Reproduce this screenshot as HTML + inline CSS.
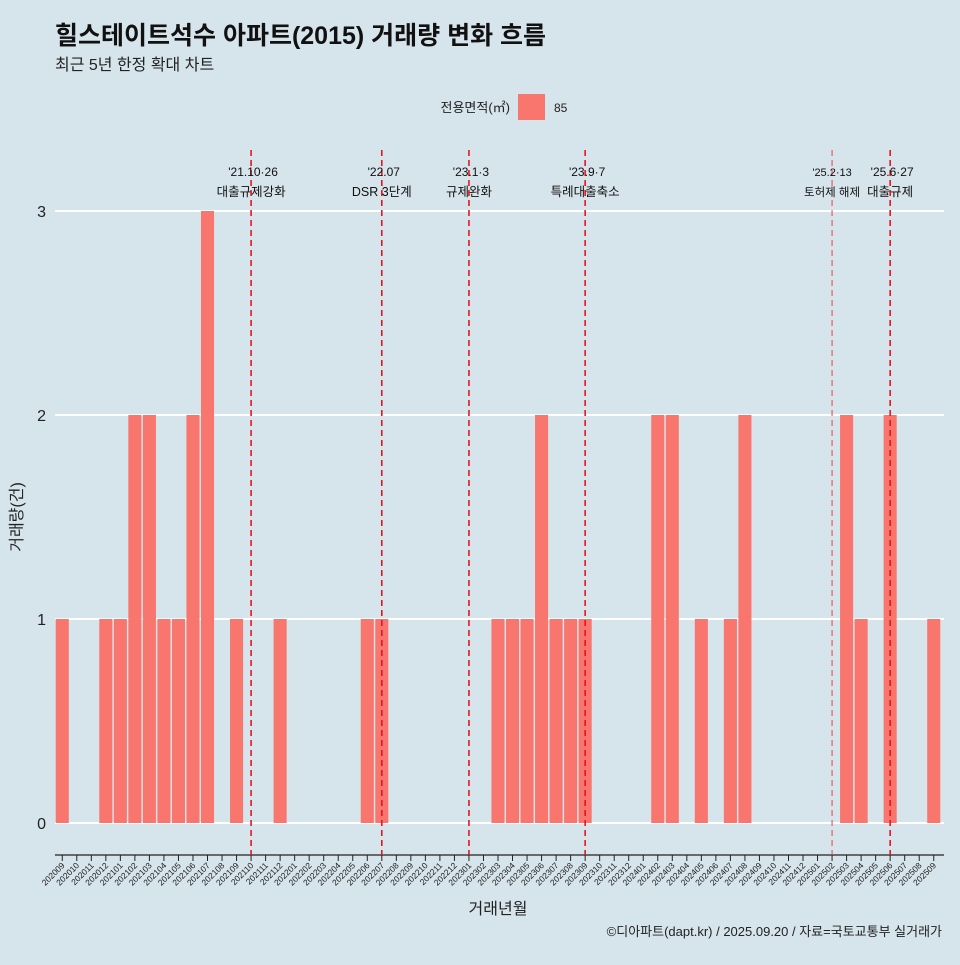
<!DOCTYPE html>
<html><head><meta charset="utf-8"><style>
body{margin:0;background:#d6e4eb;font-family:"Liberation Sans","Noto Sans CJK KR",sans-serif;}
svg text{font-family:"Liberation Sans","Noto Sans CJK KR",sans-serif;}
</style></head><body>
<svg id="c" width="960" height="960" xmlns="http://www.w3.org/2000/svg">
<rect width="960" height="960" fill="#d6e4eb"/>
<text x="55" y="44" font-size="25" font-weight="bold" fill="#111">힐스테이트석수 아파트(2015) 거래량 변화 흐름</text>
<text x="55" y="70" font-size="16" fill="#222">최근 5년 한정 확대 차트</text>
<text x="510" y="112" font-size="13" text-anchor="end" fill="#222">전용면적(㎡)</text>
<rect x="518" y="94" width="27" height="26" fill="#f8766d"/>
<text x="554" y="112" font-size="12" fill="#222">85</text>
<text x="22" y="517" font-size="16" fill="#222" transform="rotate(-90 22 517)" text-anchor="middle">거래량(건)</text>
<text x="498" y="914" font-size="16" fill="#222" text-anchor="middle">거래년월</text>
<text x="942" y="936" font-size="13" fill="#222" text-anchor="end">©디아파트(dapt.kr) / 2025.09.20 / 자료=국토교통부 실거래가</text>
<g id="plot"></g>
</svg>
<script>
const categories=[];for(let y=2020,m=9;!(y===2025&&m===10);){categories.push(y+String(m).padStart(2,'0'));m++;if(m>12){m=1;y++;}}
const values=[1,0,0,1,1,2,2,1,1,2,3,0,1,0,0,1,0,0,0,0,0,1,1,0,0,0,0,0,0,0,1,1,1,2,1,1,1,0,0,0,0,2,2,0,1,0,1,2,0,0,0,0,0,0,2,1,0,2,0,0,1];
const yTicks=[0,1,2,3];
const eventMonths=["202110","202207","202301","202309","202502","202506"];
const eventDates=["'21.10·26","'22.07","'23.1·3","'23.9·7","'25.2·13","'25.6·27"];
const eventNames=["대출규제강화","DSR 3단계","규제완화","특례대출축소","토허제 해제","대출규제"];
const NS="http://www.w3.org/2000/svg",g=document.getElementById('plot');
const x0=55,x1=941,step=(x1-x0)/categories.length;
const xc=i=>x0+step*(i+0.5);const y=v=>823-204*v;
function mk(t,a){const e=document.createElementNS(NS,t);for(const k in a)e.setAttribute(k,a[k]);g.appendChild(e);return e;}
yTicks.forEach(v=>{
 const l=mk('line',{x1:x0,x2:944,y1:y(v),y2:y(v),stroke:'#fff','stroke-width':2});
 
 
 const t=mk('text',{x:46,y:y(v)+6,'font-size':16,'text-anchor':'end',fill:'#222'});t.textContent=v;
 
 
});
values.forEach((v,i)=>{
 const r=mk('rect',{x:xc(i)-step*0.45,width:step*0.9,y:y(v),height:Math.max(0,y(0)-y(v)),fill:'#f8766d'});
 
 
});
const ax=mk('line',{x1:x0,x2:944,y1:855,y2:855,stroke:'#222','stroke-width':1.2});


categories.forEach((c,i)=>{
 const tk=mk('line',{x1:xc(i),x2:xc(i),y1:855,y2:861,stroke:'#222'});
 
 
 const t=mk('text',{x:xc(i)+3,y:866,'font-size':8.5,'text-anchor':'end',fill:'#222',transform:`rotate(-45 ${xc(i)+3} 866)`});t.textContent=c;
 
 
});
eventMonths.forEach((m,k)=>{
 const i=categories.indexOf(m),x=xc(i),thin=(k===4);
 const l=mk('line',{x1:x,x2:x,y1:150,y2:855,stroke:thin?'#f04040':'#e8141e','stroke-width':thin?1:1.6,'stroke-dasharray':'6,4'});
 
 
 const t1=mk('text',{x:x+(k===4?0:2),y:176,'font-size':thin?11:12,'text-anchor':'middle',fill:'#111'});t1.textContent=eventDates[k];
 
 
 const t2=mk('text',{x:x,y:196,'font-size':thin?11.5:12.5,'text-anchor':'middle',fill:'#111'});t2.textContent=eventNames[k];
 
 
});
</script>
</body></html>
